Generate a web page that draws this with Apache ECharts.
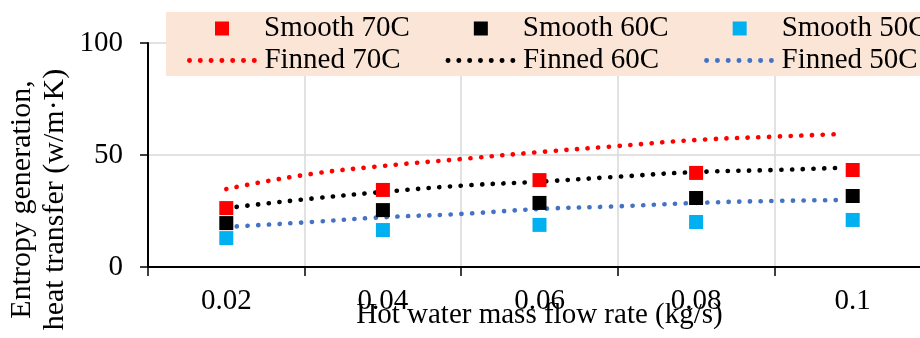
<!DOCTYPE html>
<html>
<head>
<meta charset="utf-8">
<script src="https://cdn.jsdelivr.net/npm/echarts@6/dist/echarts.min.js"></script>
<style>
html,body{margin:0;padding:0;background:#fff;}
#chart{width:920px;height:338px;}
</style>
</head>
<body>
<div id="chart"></div>
<script>
// Categories (hot water mass flow rate, kg/s)
var categories = ['0.02', '0.04', '0.06', '0.08', '0.1'];

// Smooth tube (markers)
var smooth70 = [26.3, 34.4, 38.8, 42.0, 43.3];
var smooth60 = [19.6, 25.4, 28.6, 30.8, 31.7];
var smooth50 = [12.9, 16.5, 18.8, 20.1, 21.0];

// Finned tube (dotted curves), x positions in kg/s
var finnedX   = [0.02, 0.03, 0.04, 0.05, 0.06, 0.07, 0.08, 0.09, 0.0987];
var finned70  = [34.8, 41.1, 45.1, 48.2, 51.3, 54.0, 56.7, 58.2, 59.4];
var finned60  = [26.3, 30.2, 33.5, 36.3, 38.1, 40.3, 42.4, 43.3, 44.3];
var finned50  = [17.9, 19.9, 22.2, 23.7, 25.9, 27.1, 28.6, 29.5, 29.9];

var yTicks = [0, 50, 100];

function pairs(xs, ys) {
  return xs.map(function (x, i) { return [x, ys[i]]; });
}

var FONT = 'Liberation Serif';
var FS = 29;
var chart = echarts.init(document.getElementById('chart'), null, {renderer: 'canvas'});

function dotted(name, color, ys) {
  return {
    name: name, type: 'line', xAxisIndex: 1, yAxisIndex: 0,
    data: pairs(finnedX, ys), smooth: true, symbol: 'none', z: 2,
    lineStyle: {color: color, width: 4.6, type: [0.2, 10.5], cap: 'round'},
    itemStyle: {color: color}
  };
}
function squares(name, color, ys) {
  return {
    name: name, type: 'scatter', xAxisIndex: 0, yAxisIndex: 0,
    data: ys, symbol: 'rect', symbolSize: 14, z: 3,
    itemStyle: {color: color, opacity: 1}
  };
}

var option = {
  backgroundColor: '#ffffff',
  animation: false,
  grid: {left: 148, right: -11, top: 43, bottom: 71, containLabel: false, outerBoundsMode: 'none'},
  graphic: [{
    type: 'rect', z: 1, silent: true,
    shape: {x: 166, y: 12, width: 770, height: 64},
    style: {fill: '#FBE5D6'}
  }],
  legend: [{
    data: ['Smooth 70C', 'Smooth 60C', 'Smooth 50C'],
    left: 215, top: 14, width: 760, orient: 'horizontal', padding: 0, z: 10,
    itemWidth: 14, itemHeight: 14, itemGap: 64,
    textStyle: {fontFamily: FONT, fontSize: FS, color: '#000', padding: [0, 0, 0, 30]}
  }, {
    data: ['Finned 70C', 'Finned 60C', 'Finned 50C'],
    left: 187, top: 46, width: 760, orient: 'horizontal', padding: 0, z: 10,
    itemWidth: 65, itemHeight: 14, itemGap: 45,
    itemStyle: {opacity: 0},
    lineStyle: {width: 4.8, type: [0.2, 10.6], cap: 'round'},
    textStyle: {fontFamily: FONT, fontSize: FS, color: '#000', padding: [0, 0, 0, 5]}
  }],
  xAxis: [{
    type: 'category', data: categories, boundaryGap: true,
    axisLine: {show: true, lineStyle: {color: '#000', width: 2}},
    axisTick: {show: true, length: 9, lineStyle: {color: '#000', width: 1.5}},
    axisLabel: {fontFamily: FONT, fontSize: FS, color: '#000', margin: 20},
    splitLine: {show: true, lineStyle: {color: '#d9d9d9', width: 1.5}},
    name: 'Hot water mass flow rate (kg/s)', nameLocation: 'middle', nameGap: 34,
    nameMoveOverlap: false,
    nameTextStyle: {fontFamily: FONT, fontSize: FS, color: '#000'}
  }, {
    type: 'value', min: 0.01, max: 0.11, show: false
  }],
  yAxis: [{
    type: 'value', min: 0, max: 100, interval: 50,
    axisLine: {show: true, lineStyle: {color: '#000', width: 2}},
    axisTick: {show: true, length: 8, lineStyle: {color: '#000', width: 1.5}},
    axisLabel: {fontFamily: FONT, fontSize: FS, color: '#000', margin: 25,
      formatter: function (v) { return yTicks.indexOf(v) >= 0 ? String(v) : ''; }},
    splitLine: {show: true, lineStyle: {color: '#d9d9d9', width: 1.5}},
    name: 'Entropy generation,\nheat transfer (w/m\u00b7K)',
    nameLocation: 'middle', nameGap: 76, nameRotate: 90, nameMoveOverlap: false,
    nameTextStyle: {fontFamily: FONT, fontSize: 30, color: '#000', lineHeight: 33, padding: [0, 89, 0, 0]}
  }],
  series: [
    dotted('Finned 70C', '#FF0000', finned70),
    dotted('Finned 60C', '#000000', finned60),
    dotted('Finned 50C', '#4472C4', finned50),
    squares('Smooth 70C', '#FF0000', smooth70),
    squares('Smooth 60C', '#000000', smooth60),
    squares('Smooth 50C', '#00B0F0', smooth50)
  ]
};
chart.setOption(option);
</script>
</body>
</html>
